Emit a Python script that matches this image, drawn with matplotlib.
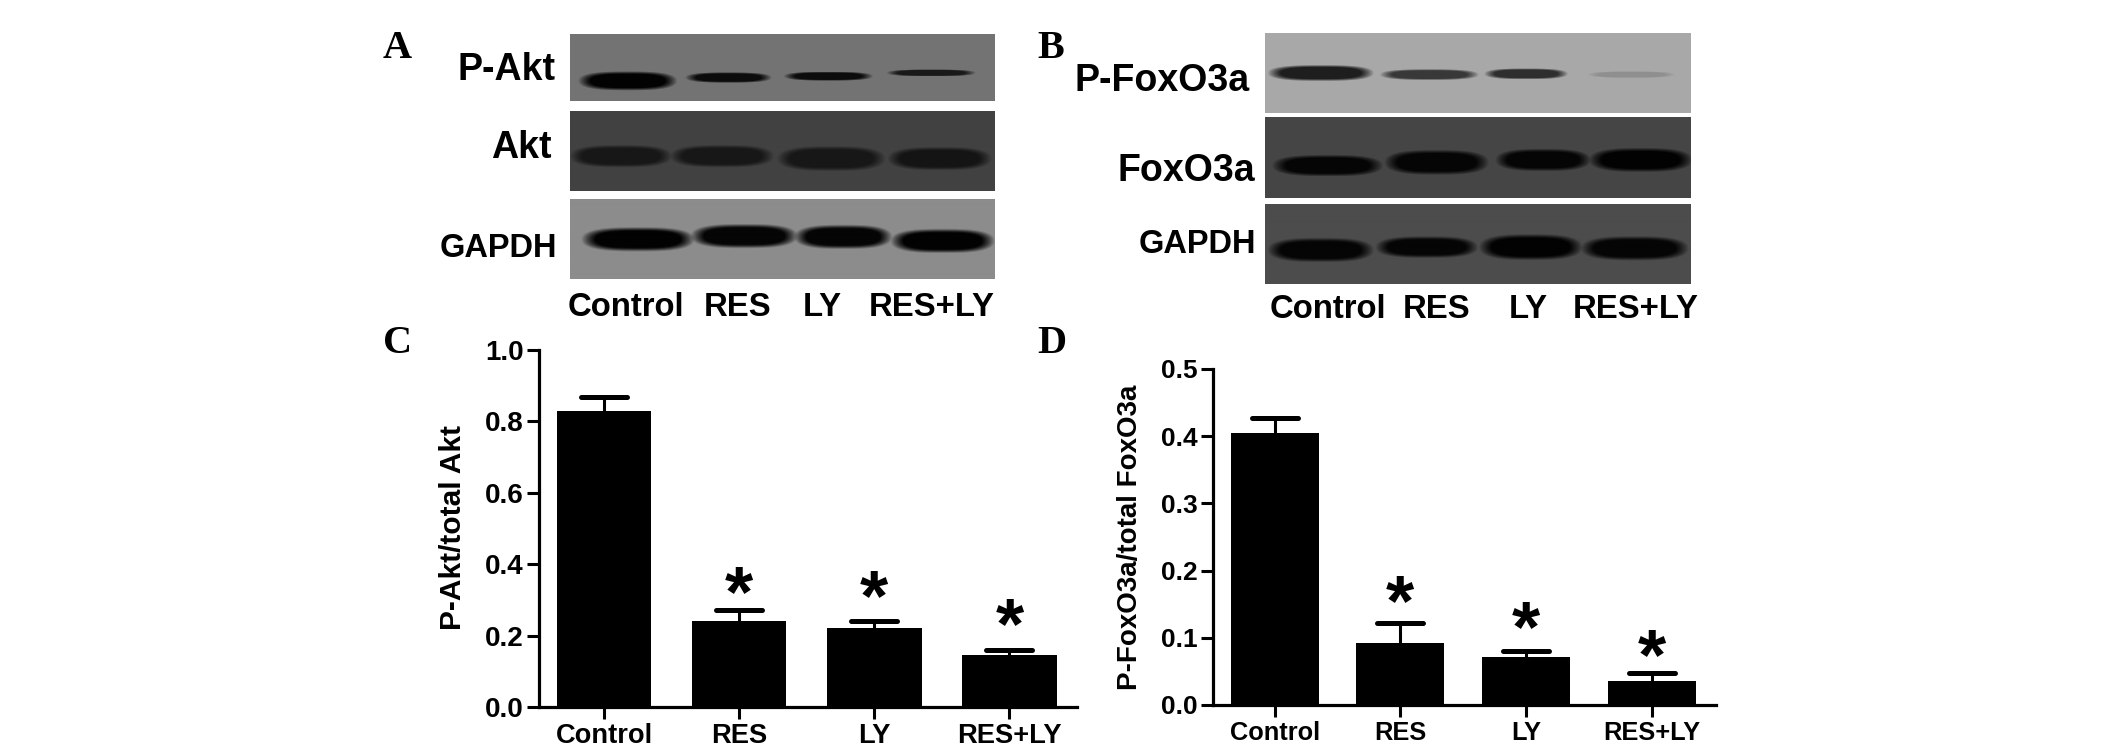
import numpy as np
import matplotlib
matplotlib.use('Agg')
import matplotlib.pyplot as plt
from matplotlib.markers import MarkerStyle

W, H = 2125, 752

lanes = ['Control', 'RES', 'LY', 'RES+LY']

#densitometry values
akt_means = [0.83, 0.24, 0.22, 0.145]
akt_tops = [0.867, 0.271, 0.241, 0.159]
akt_stars = [None, 0.353, 0.341, 0.262]
akt_ticks = [0.0, 0.2, 0.4, 0.6, 0.8, 1.0]

foxo_means = [0.405, 0.093, 0.072, 0.036]
foxo_tops = [0.427, 0.122, 0.081, 0.048]
foxo_stars = [None, 0.171, 0.133, 0.090]
foxo_ticks = [0.0, 0.1, 0.2, 0.3, 0.4, 0.5]

#blot bands: x centre, half width, y centre, half height, grey level (fractions of the strip)
pakt_bands = [(.136, .110, .70, .135, .01), (.373, .096, .65, .075, .05), (.608, .099, .63, .065, .05), (.850, .099, .58, .050, .10)]
akt_bands = [(.120, .114, .57, .130, .09), (.358, .116, .57, .130, .09), (.615, .121, .60, .145, .09), (.870, .116, .60, .135, .08)]
gapdh_a_bands = [(.160, .126, .51, .140, .01), (.410, .119, .47, .140, .02), (.643, .109, .48, .140, .02), (.877, .116, .53, .140, .01)]
pfoxo_bands = [(.131, .118, .50, .095, .12), (.386, .110, .52, .065, .22), (.613, .093, .51, .065, .18), (.860, .097, .52, .040, .56)]
foxo_bands = [(.147, .123, .60, .125, .02), (.403, .116, .56, .145, .02), (.653, .106, .53, .130, .02), (.882, .115, .53, .140, .01)]
gapdh_b_bands = [(.131, .118, .58, .140, .02), (.380, .114, .545, .125, .02), (.624, .115, .545, .150, .01), (.868, .120, .56, .140, .02)]

plt.rcParams['font.family'] = ['Liberation Sans']
plt.rcParams['font.weight'] = 'bold'

fig = plt.figure(figsize=(W / 100, H / 100), dpi=100, facecolor='white')


#axes from pixel box, y measured from the top of the picture
def px_axes(left, top, right, bottom):
    return fig.add_axes([left / W, 1 - bottom / H, (right - left) / W, (bottom - top) / H])


def px_text(x, y, s, **kw):
    fig.text(x / W, 1 - y / H, s, **kw)


def draw_blot(box, bg, bands):
    left, top, right, bottom = box
    w, h = right - left, bottom - top
    xx, yy = np.meshgrid((np.arange(w) + .5) / w, (np.arange(h) + .5) / h)
    img = np.full((h, w), float(bg))
    for cx, hw, cy, hh, grey in bands:
        d = np.abs((xx - cx) / hw) ** 3 + (np.abs(yy - cy) / hh) ** 2.4
        a = np.clip((1.2 - d) / 0.7, 0, 1)
        img = img * (1 - a) + grey * a
    ax = px_axes(left, top, right, bottom)
    ax.imshow(img, cmap='gray', vmin=0, vmax=1, aspect='auto', interpolation='bilinear')
    ax.axis('off')


def draw_bars(box, step_left, step_right, means, tops, stars, ticks, ylabel, ylabel_xy, ylabel_size, size, tick_size):
    ax = px_axes(*box)
    ax.patch.set_alpha(0)
    x = np.arange(len(lanes))
    ax.bar(x, means, width=0.7, color='black')
    errs = np.array(tops) - np.array(means)
    eb = ax.errorbar(x, means, yerr=[np.zeros(4), errs], fmt='none', ecolor='black',
                     elinewidth=2.2, capsize=16.5, capthick=3.6)
    eb[1][0].set_visible(False)    #only the upper cap
    eb[1][1].set_marker(MarkerStyle('_', capstyle='round'))
    for i, s in enumerate(stars):
        if s is not None:
            #va center counts the font descent, so pull the glyph back down
            ax.annotate('*', (i, s), xytext=(0, -11.5), textcoords='offset points',
                        ha='center', va='center', fontsize=52)
    ax.set_xlim(-step_left, step_right)
    ax.set_ylim(0, ticks[-1])
    ax.set_xticks(x)
    ax.set_xticklabels(lanes, fontsize=size)
    ax.set_yticks(ticks)
    ax.set_yticklabels(['%.1f' % t for t in ticks], fontsize=tick_size)
    ax.tick_params(axis='x', length=8.5, width=2.2, pad=3)
    ax.tick_params(axis='y', length=9, width=2.2, pad=2)
    for side in ['top', 'right']:
        ax.spines[side].set_visible(False)
    for side in ['left', 'bottom']:
        ax.spines[side].set_linewidth(2.3)
    px_text(ylabel_xy[0], ylabel_xy[1], ylabel, rotation=90, ha='center', va='center', fontsize=ylabel_size)


#western blots
draw_blot((570, 34, 995, 101), .45, pakt_bands)
draw_blot((570, 111, 995, 191), .26, akt_bands)
draw_blot((570, 199, 995, 279), .55, gapdh_a_bands)
draw_blot((1265, 33, 1691, 113), .66, pfoxo_bands)
draw_blot((1265, 117, 1691, 198), .27, foxo_bands)
draw_blot((1265, 204, 1691, 284), .30, gapdh_b_bands)

#blot row labels
px_text(555, 70, 'P-Akt', ha='right', va='center', fontsize=27)
px_text(552, 148, 'Akt', ha='right', va='center', fontsize=27)
px_text(557, 249, 'GAPDH', ha='right', va='center', fontsize=23.5)
px_text(1250, 81, 'P-FoxO3a', ha='right', va='center', fontsize=27)
px_text(1255, 171, 'FoxO3a', ha='right', va='center', fontsize=27)
px_text(1256, 244, 'GAPDH', ha='right', va='center', fontsize=23.5)

#lane labels under the blots
for x, name in zip([626, 738, 822, 932], lanes):
    px_text(x, 308, name, ha='center', va='center', fontsize=23.7)
for x, name in zip([1328, 1437, 1528, 1636], lanes):
    px_text(x, 310, name, ha='center', va='center', fontsize=23.7)

#bar charts
draw_bars((539, 350, 1077, 707), 0.481, 3.50, akt_means, akt_tops, akt_stars, akt_ticks,
          'P-Akt/total Akt', (453, 528), 21.5, 19.6, 20)
draw_bars((1213, 369, 1716, 705), 0.49, 3.51, foxo_means, foxo_tops, foxo_stars, foxo_ticks,
          'P-FoxO3a/total FoxO3a', (1130, 537), 20, 18.3, 19)

#panel letters
for x, y, letter in [(383, 58, 'A'), (1037, 58, 'B'), (383, 353, 'C'), (1037, 353, 'D')]:
    px_text(x, y, letter, ha='left', va='baseline', fontsize=29, family='Liberation Serif')

fig.savefig('out.png', dpi=100)
